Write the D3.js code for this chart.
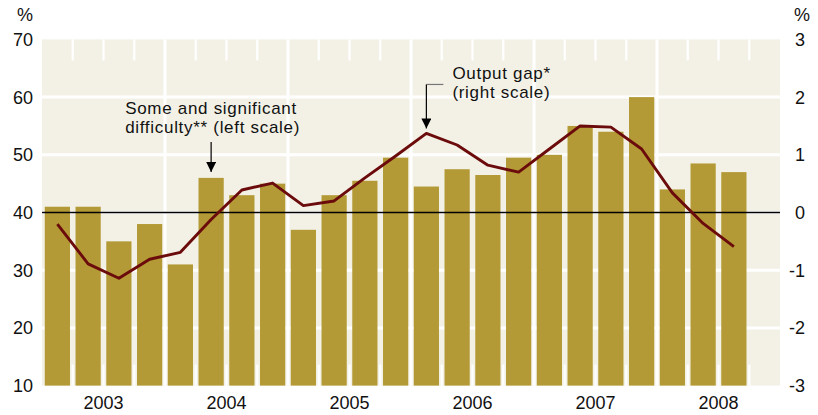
<!DOCTYPE html>
<html>
<head>
<meta charset="utf-8">
<script src="https://cdn.jsdelivr.net/npm/d3@7"></script>
<style>
  body { margin: 0; background: #fff; }
  svg text { font-family: "Liberation Sans", Arial, sans-serif; fill: #111; }
</style>
</head>
<body>
<div id="chart"></div>
<script>
// Quarterly data, 2003 Q1 - 2008 Q3 (2008 Q4 slot left empty)
var years = [2003, 2004, 2005, 2006, 2007, 2008];
var quarters = [];
years.forEach(function(y) {
  for (var q = 1; q <= 4; q++) quarters.push(y + ' Q' + q);
});

// Some and significant difficulty, % (left scale)
var difficulty = [41, 41, 35, 38, 31, 46, 43, 45, 37, 43, 45.5, 49.5,
                  44.5, 47.5, 46.5, 49.5, 50, 55, 54, 60, 44, 48.5, 47];

// Output gap, % (right scale)
var outputGap = [-0.2, -0.89, -1.14, -0.81, -0.69, -0.12, 0.39, 0.51,
                 0.12, 0.2, 0.6, 0.98, 1.37, 1.17, 0.82, 0.7,
                 1.1, 1.5, 1.48, 1.1, 0.34, -0.19, -0.59];

var leftTicks = [10, 20, 30, 40, 50, 60, 70];
var rightTicks = [-3, -2, -1, 0, 1, 2, 3];

var width = 818, height = 415;
var margin = {top: 39.4, right: 38, bottom: 29.4, left: 42};
var plotW = width - margin.left - margin.right;
var plotH = height - margin.top - margin.bottom;

var svg = d3.select('#chart').append('svg')
    .attr('width', width).attr('height', height);

var g = svg.append('g')
    .attr('transform', 'translate(' + margin.left + ',' + margin.top + ')');

// Scales
var x = d3.scaleBand().domain(quarters).range([0, plotW])
    .paddingInner(0.18).paddingOuter(0.09);
var xYear = d3.scaleBand().domain(years).range([0, plotW]);
var yL = d3.scaleLinear().domain([10, 70]).range([plotH, 0]);
var yR = d3.scaleLinear().domain([-3, 3]).range([plotH, 0]);

// Plot background
g.append('rect').attr('width', plotW).attr('height', plotH).attr('fill', '#f3f1e6');

// Horizontal white grid lines
g.selectAll('.hgrid').data(leftTicks.filter(function(d) { return d > 10 && d < 70; }))
  .enter().append('line')
    .attr('x1', 0).attr('x2', plotW)
    .attr('y1', function(d) { return yL(d); }).attr('y2', function(d) { return yL(d); })
    .attr('stroke', '#fff').attr('stroke-width', 3);

// Vertical year dividers
g.selectAll('.vgrid').data(years.slice(1))
  .enter().append('line')
    .attr('x1', function(d) { return xYear(d); }).attr('x2', function(d) { return xYear(d); })
    .attr('y1', 0).attr('y2', plotH)
    .attr('stroke', '#fff').attr('stroke-width', 3);

// Short quarter ticks at top and bottom
var qBounds = quarters.slice(1).filter(function(d, i) { return (i + 1) % 4 !== 0; });
[[0, 21], [plotH - 21, plotH]].forEach(function(seg) {
  g.selectAll(null).data(qBounds).enter().append('line')
    .attr('x1', function(d) { return x(d) - x.step() * x.paddingInner() / 2; })
    .attr('x2', function(d) { return x(d) - x.step() * x.paddingInner() / 2; })
    .attr('y1', seg[0]).attr('y2', seg[1])
    .attr('stroke', '#fff').attr('stroke-width', 2.2);
});

// Bars
g.selectAll('.bar').data(difficulty).enter().append('rect')
    .attr('x', function(d, i) { return x(quarters[i]); })
    .attr('width', x.bandwidth())
    .attr('y', function(d) { return yL(d); })
    .attr('height', function(d) { return plotH - yL(d); })
    .attr('fill', '#b39a36');

// Zero line
g.append('line').attr('x1', 0).attr('x2', plotW)
    .attr('y1', yR(0)).attr('y2', yR(0))
    .attr('stroke', '#000').attr('stroke-width', 1.6);

// Output gap line
var line = d3.line()
    .x(function(d, i) { return x(quarters[i]) + x.bandwidth() / 2; })
    .y(function(d) { return yR(d); });
g.append('path').datum(outputGap)
    .attr('d', line).attr('fill', 'none')
    .attr('stroke', '#6b0b0b').attr('stroke-width', 2.9)
    .attr('stroke-linejoin', 'round');

// Axes
var fontSize = 18;
var leftAxis = g.append('g');
leftAxis.selectAll('text').data(leftTicks).enter().append('text')
    .attr('x', -9).attr('y', function(d) { return yL(d); })
    .attr('dy', '0.36em').attr('text-anchor', 'end')
    .style('font-size', fontSize + 'px').text(function(d) { return d; });

var rightAxis = g.append('g');
rightAxis.selectAll('text').data(rightTicks).enter().append('text')
    .attr('x', plotW + 25).attr('y', function(d) { return yR(d); })
    .attr('dy', '0.36em').attr('text-anchor', 'end')
    .style('font-size', fontSize + 'px').text(function(d) { return d; });

g.selectAll('.year').data(years).enter().append('text')
    .attr('x', function(d) { return xYear(d) + xYear.bandwidth() / 2; })
    .attr('y', plotH + 23).attr('text-anchor', 'middle')
    .style('font-size', fontSize + 'px').text(function(d) { return d; });

svg.append('text').attr('x', 33).attr('y', 21).attr('text-anchor', 'end')
    .style('font-size', fontSize + 'px').text('%');
svg.append('text').attr('x', 794).attr('y', 21)
    .style('font-size', fontSize + 'px').text('%');

// Arrowhead
svg.append('defs').append('marker')
    .attr('id', 'arrow').attr('viewBox', '0 0 10 10')
    .attr('refX', 10).attr('refY', 5)
    .attr('markerWidth', 10).attr('markerHeight', 10)
    .attr('markerUnits', 'userSpaceOnUse').attr('orient', 'auto')
  .append('path').attr('d', 'M0,0L10,5L0,10Z').attr('fill', '#000');

// Two-line annotation label, each line its own text element
function label(lines, lx, ly) {
  lines.forEach(function(s, i) {
    g.append('text').style('font-size', '17px').style('letter-spacing', '0.7px')
      .attr('x', lx).attr('y', ly + i * 19).text(s);
  });
}

// Annotation: difficulty (points at 2004 Q2 bar)
var ax1 = x(quarters[5]) + x.bandwidth() / 2;
var ay1 = yL(difficulty[5]) - 6;
g.append('line').attr('x1', ax1).attr('x2', ax1)
    .attr('y1', ay1 - 30).attr('y2', ay1)
    .attr('stroke', '#000').attr('stroke-width', 1.2)
    .attr('marker-end', 'url(#arrow)');
label(['Some and significant', 'difficulty** (left scale)'], ax1 - 86, ay1 - 57.5);

// Annotation: output gap (points at 2006 Q1 peak)
var ax2 = x(quarters[12]) + x.bandwidth() / 2;
var ay2 = yR(outputGap[12]) - 5;
g.append('line').attr('x1', ax2).attr('x2', ax2 + 17)
    .attr('y1', ay2 - 44).attr('y2', ay2 - 44)
    .attr('stroke', '#777').attr('stroke-width', 1.2);
g.append('line').attr('x1', ax2).attr('x2', ax2)
    .attr('y1', ay2 - 44).attr('y2', ay2)
    .attr('stroke', '#000').attr('stroke-width', 1.2)
    .attr('marker-end', 'url(#arrow)');
label(['Output gap*', '(right scale)'], ax2 + 26, ay2 - 49.5);
</script>
</body>
</html>
